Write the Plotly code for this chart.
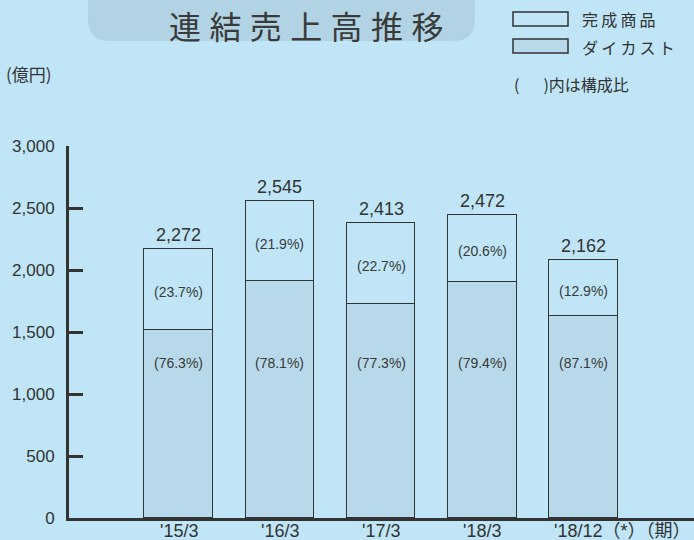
import plotly.graph_objects as go

# ---------------- data ----------------
periods = ["'15/3", "'16/3", "'17/3", "'18/3", "'18/12（*）"]
period_unit = "（期）"
total_labels = ["2,272", "2,545", "2,413", "2,472", "2,162"]
product_share = ["(23.7%)", "(21.9%)", "(22.7%)", "(20.6%)", "(12.9%)"]
diecast_share = ["(76.3%)", "(78.1%)", "(77.3%)", "(79.4%)", "(87.1%)"]
# segment heights as drawn in the picture (億円)
diecast_values = [1518, 1915, 1727, 1907, 1631]
product_values = [652, 643, 652, 539, 453]
y_ticks = [0, 500, 1000, 1500, 2000, 2500, 3000]

series_names = ["ダイカスト", "完成商品"]
title_text = "連結売上高推移"
unit_text = "(億円)"
note_text = "(\u3000\u2002)内は構成比"

# ---------------- style ----------------
W, H = 694, 540
L, R, T, B = 69, 0, 146, 22
PW, PH = W - L - R, H - T - B
BG = "rgb(191,229,246)"
DIE = "rgb(184,217,233)"
TITLE_BOX = "rgb(178,211,227)"
INK = "#333333"
FONT = "Liberation Sans, Arial, Noto Sans CJK JP, sans-serif"
JFONT = "Noto Sans CJK JP, sans-serif"


def px(x, y):
    """pixel position -> paper coordinates"""
    return (x - L) / PW, (H - B - y) / PH


xs = list(range(len(periods)))
totals = [d + p for d, p in zip(diecast_values, product_values)]

fig = go.Figure()
fig.add_trace(go.Bar(x=xs, y=diecast_values, name=series_names[0], width=0.68,
                     marker=dict(color=DIE, line=dict(color=INK, width=1.5)),
                     hoverinfo="skip"))
fig.add_trace(go.Bar(x=xs, y=product_values, name=series_names[1], width=0.68,
                     marker=dict(color=BG, line=dict(color=INK, width=1.5)),
                     hoverinfo="skip"))

ann = []
_, lab_y = px(0, 531)
for i in xs:
    ann.append(dict(x=i, y=totals[i], text=total_labels[i], showarrow=False,
                    yanchor="bottom", yshift=2, font=dict(size=18, color=INK, family=FONT)))
    ann.append(dict(x=i, y=diecast_values[i] + product_values[i] / 2, text=product_share[i],
                    showarrow=False, yshift=-3, font=dict(size=14, color="#3a3a3a", family=FONT)))
    ann.append(dict(x=i, y=1250, text=diecast_share[i], showarrow=False,
                    font=dict(size=14, color="#3a3a3a", family=FONT)))
    if i < len(xs) - 1:
        ann.append(dict(x=i, yref="paper", y=lab_y, text=periods[i], showarrow=False,
                        yanchor="middle", font=dict(size=18, color=INK, family=FONT)))
    else:
        # last period label (left-aligned under the last bar) with unit
        ann.append(dict(x=i, xshift=-31, xanchor="left", yref="paper", y=lab_y,
                        yanchor="middle", text=periods[i] + period_unit, showarrow=False,
                        font=dict(size=18, color=INK, family=FONT)))

# title
tx, ty = px(306, 1)
ann.append(dict(xref="paper", yref="paper", x=tx, y=ty, xanchor="center", yanchor="top",
                text="\u2009\u200a".join(title_text), showarrow=False, borderpad=0,
                font=dict(size=32, color="#3a3a3a", family=JFONT)))
# unit
ux, uy = px(4, 74)
ann.append(dict(xref="paper", yref="paper", x=ux, y=uy, xanchor="left", yanchor="middle",
                text=unit_text, showarrow=False, font=dict(size=17, color=INK, family=JFONT)))
# legend texts
lx, ly1 = px(580, 19)
_, ly2 = px(580, 47)
ann.append(dict(xref="paper", yref="paper", x=lx, y=ly1, xanchor="left", yanchor="middle",
                text="\u2009".join(series_names[1]), showarrow=False,
                font=dict(size=16, color=INK, family=JFONT)))
ann.append(dict(xref="paper", yref="paper", x=lx, y=ly2, xanchor="left", yanchor="middle",
                text="\u2009".join(series_names[0]), showarrow=False,
                font=dict(size=16, color=INK, family=JFONT)))
nx, ny = px(512, 84)
ann.append(dict(xref="paper", yref="paper", x=nx, y=ny, xanchor="left", yanchor="middle",
                text=note_text, showarrow=False,
                font=dict(size=16, color=INK, family=JFONT)))

shapes = []
# title rounded box
x0, y0, x1, y1, r = 88, -30, 475, 41, 22


def P(x, y):
    a, b = px(x, y)
    return f"{a:.5f},{b:.5f}"


path = (f"M{P(x0 + r, y0)} L{P(x1 - r, y0)} Q{P(x1, y0)} {P(x1, y0 + r)} "
        f"L{P(x1, y1 - r)} Q{P(x1, y1)} {P(x1 - r, y1)} L{P(x0 + r, y1)} "
        f"Q{P(x0, y1)} {P(x0, y1 - r)} L{P(x0, y0 + r)} Q{P(x0, y0)} {P(x0 + r, y0)} Z")
shapes.append(dict(type="path", xref="paper", yref="paper", path=path,
                   fillcolor=TITLE_BOX, line=dict(width=0), layer="below"))
# legend boxes
for (by0, by1, col) in [(12, 26, BG), (39, 53, DIE)]:
    a0, b0 = px(513, by0)
    a1, b1 = px(568, by1)
    shapes.append(dict(type="rect", xref="paper", yref="paper", x0=a0, x1=a1, y0=b0, y1=b1,
                       fillcolor=col, line=dict(color=INK, width=1.5)))

fig.update_layout(
    width=W, height=H, margin=dict(l=L, r=R, t=T, b=B, pad=0),
    paper_bgcolor=BG, plot_bgcolor=BG, barmode="stack", bargap=0,
    showlegend=False, annotations=ann, shapes=shapes,
    font=dict(family=FONT, color=INK),
    xaxis=dict(range=[-1.085, 5.093], showticklabels=False,
               showline=True, linecolor=INK, linewidth=3, ticks="", showgrid=False,
               zeroline=False, automargin=False, fixedrange=True),
    yaxis=dict(range=[0, 3000], tickvals=y_ticks, tickformat=",", ticks="inside",
               ticklen=14, tickwidth=3, tickcolor=INK, showline=True, linecolor=INK,
               linewidth=3, showgrid=False, zeroline=False, ticklabelstandoff=8,
               tickfont=dict(size=17, color=INK, family=FONT), automargin=False,
               fixedrange=True),
)

fig.write_html("out.html", config={"displayModeBar": False},
               post_script="document.body.style.margin='0';document.body.style.overflow='hidden';")
